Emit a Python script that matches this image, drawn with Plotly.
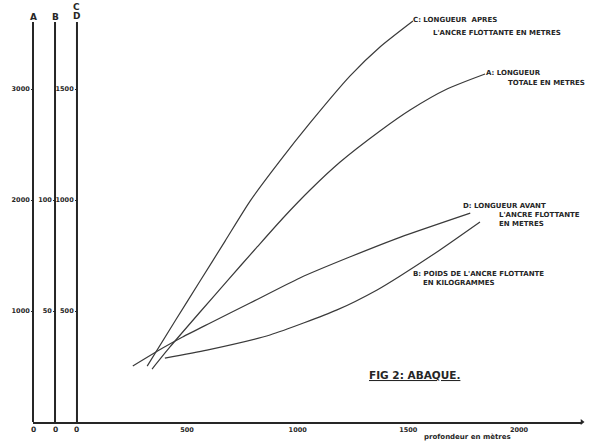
import plotly.graph_objects as go

# ---- data (depth in metres) ----
depth_A = [342, 423, 559, 681, 817, 934, 1056, 1192, 1372, 1508, 1675, 1847]
len_A = [477, 676, 991, 1270, 1577, 1838, 2090, 2342, 2622, 2811, 3000, 3135]   # longueur totale (m)

depth_B = [400, 590, 875, 1178, 1359, 1463, 1643, 1824]
poids_B = [28.8, 32.4, 39.2, 50.5, 59.5, 65.8, 77.5, 90.1]                     # poids (kg)

depth_C = [320, 446, 559, 672, 785, 920, 1056, 1237, 1372, 1521]
len_C = [252, 455, 635, 815, 995, 1176, 1347, 1559, 1689, 1806]                # longueur après (m)

depth_D = [255, 390, 480, 605, 785, 1010, 1235, 1465, 1780]
len_D = [252, 333, 383, 446, 536, 649, 743, 833, 941]                          # longueur avant (m)

x_ticks = [500, 1000, 1500, 2000]
A_ticks = [1000, 2000, 3000]
B_ticks = [50, 100]
CD_ticks = [500, 1000, 1500]

X_RANGE = [-196, 2285]
A_TOP = 3766          # top of plotting range on scale A
A_AXIS_TOP = 3604     # where the drawn vertical scales stop
B_FACTOR = 20         # A = 20 * B
CD_FACTOR = 2         # A = 2 * C/D

INK = "#262626"
FONT = "DejaVu Sans"

fig = go.Figure()
line = dict(color="#3a3a3a", width=1.2, shape="spline", smoothing=0.6)
fig.add_trace(go.Scatter(x=depth_A, y=len_A, mode="lines", line=line, yaxis="y", name="A"))
fig.add_trace(go.Scatter(x=depth_B, y=poids_B, mode="lines", line=line, yaxis="y2", name="B"))
fig.add_trace(go.Scatter(x=depth_C, y=len_C, mode="lines", line=line, yaxis="y3", name="C"))
fig.add_trace(go.Scatter(x=depth_D, y=len_D, mode="lines", line=line, yaxis="y3", name="D"))
# arrow at the end of the depth axis
fig.add_trace(go.Scatter(x=[X_RANGE[1]], y=[0], mode="markers", yaxis="y",
                         marker=dict(symbol="triangle-right", size=5, color=INK),
                         cliponaxis=False, hoverinfo="skip"))

pos_A, pos_B, pos_CD = 0.0, 0.0401, 0.0801
tickfont = dict(family=FONT, size=6.5, color=INK, weight="bold")

common_y = dict(showgrid=False, zeroline=False, showline=False, ticks="outside",
                ticklen=2, tickwidth=1, tickcolor=INK, tickfont=tickfont, anchor="free",
                side="left", automargin=False)

fig.update_layout(
    width=591, height=441,
    margin=dict(l=33, r=9, t=4, b=19, autoexpand=False),
    paper_bgcolor="white", plot_bgcolor="white",
    showlegend=False,
    xaxis=dict(range=X_RANGE, showgrid=False, zeroline=False, showline=True,
               linecolor=INK, linewidth=1.5, tickvals=x_ticks,
               ticktext=[str(v) for v in x_ticks], ticks="",
               tickfont=dict(family=FONT, size=6.5, color=INK, weight="bold"),
               ticklabelstandoff=0, automargin=False),
    yaxis=dict(range=[0, A_TOP], tickvals=A_ticks, position=pos_A, **common_y),
    yaxis2=dict(range=[0, A_TOP / B_FACTOR], tickvals=B_ticks, position=pos_B,
                overlaying="y", **common_y),
    yaxis3=dict(range=[0, A_TOP / CD_FACTOR], tickvals=CD_ticks, position=pos_CD,
                overlaying="y", **common_y),
)

# vertical scale lines A, B, C/D
for p in (pos_A, pos_B, pos_CD):
    fig.add_shape(type="line", xref="paper", yref="y", x0=p, x1=p, y0=0, y1=A_AXIS_TOP,
                  line=dict(color=INK, width=2))

lab = dict(family=FONT, size=9, color=INK, weight="bold")
for p, t, yy in [(pos_A, "A", 3649), (pos_B, "B", 3649), (pos_CD, "C", 3739), (pos_CD, "D", 3658)]:
    fig.add_annotation(xref="paper", yref="y", x=p, y=yy, text=t, showarrow=False,
                       font=lab, xanchor="center", yanchor="middle", borderpad=0)
for p in (pos_A, pos_B, pos_CD):
    fig.add_annotation(xref="paper", yref="paper", x=p, y=-0.019, text="0", showarrow=False,
                       font=dict(family=FONT, size=7.5, color=INK, weight="bold"),
                       xanchor="center", yanchor="middle")

small = dict(family=FONT, size=7, color=INK, weight="bold")
labels = [
    (1517, 3622, "C: LONGUEUR  APRES"),
    (1606, 3505, "L'ANCRE FLOTTANTE EN METRES"),
    (1847, 3140, "A: LONGUEUR"),
    (1946, 3054, "TOTALE EN METRES"),
    (1743, 1946, "D: LONGUEUR AVANT"),
    (1905, 1865, "L'ANCRE FLOTTANTE"),
    (1905, 1784, "EN METRES"),
    (1517, 1333, "B: POIDS DE L'ANCRE FLOTTANTE"),
    (1562, 1252, "EN KILOGRAMMES"),
]
for x, y, t in labels:
    fig.add_annotation(x=x, y=y, text=t, showarrow=False, font=small,
                       xanchor="left", yanchor="middle", borderpad=0)

fig.add_annotation(x=1313, y=423, text="FIG 2: ABAQUE.", showarrow=False,
                   font=dict(family=FONT, size=10.5, color=INK, weight="bold", lineposition="under"),
                   xanchor="left", yanchor="middle")
fig.add_annotation(xref="x", yref="paper", x=1566, y=-0.036, text="profondeur en mètres",
                   showarrow=False, font=dict(family=FONT, size=7, color=INK, weight="bold"),
                   xanchor="left", yanchor="middle", borderpad=0)

# place the figure at the top-left corner of the page (no default body margin)
fig.write_html("out.html", config={"displayModeBar": False},
               post_script="document.body.style.margin='0';")
